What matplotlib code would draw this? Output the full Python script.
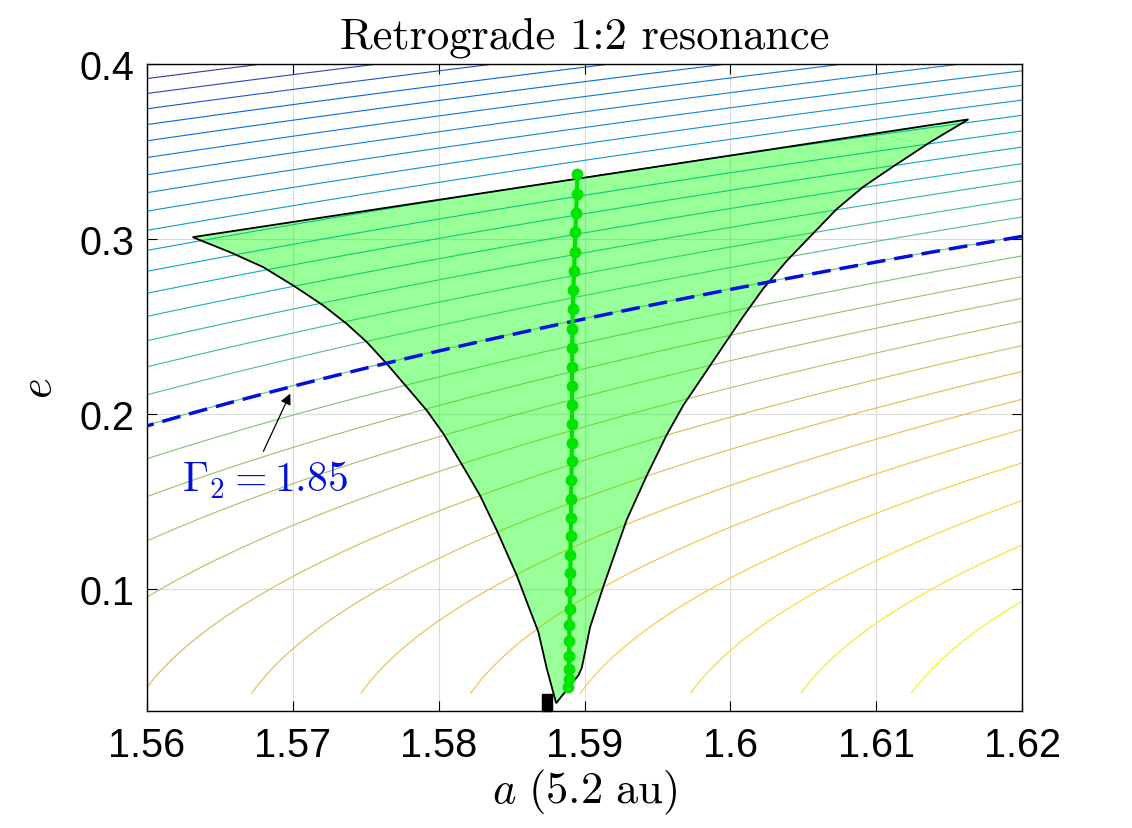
import numpy as np
import matplotlib
matplotlib.use("Agg")
from matplotlib import pyplot as plt
from matplotlib.colors import LinearSegmentedColormap, Normalize
from matplotlib.patches import Polygon, Rectangle


# axis ranges of the (a, e) map
a_range = (1.56, 1.62)
e_range = (0.04, 0.40)
n_levels = 30
gamma_dashed = 1.85

# boundary of the resonance region: top-left corner, top-right corner,
# down the right edge to the tip, then up the left edge
right_a = [1.61632, 1.61369, 1.61118, 1.60912, 1.60730, 1.60546, 1.60387,
           1.60226, 1.60089, 1.59952, 1.59815, 1.59678, 1.59564, 1.59427,
           1.59289, 1.59129, 1.59038, 1.58981, 1.58958]
right_e = [0.36834, 0.35526, 0.34149, 0.32983, 0.31714, 0.30126, 0.28749,
           0.27166, 0.25577, 0.23886, 0.22189, 0.20497, 0.18806, 0.16474,
           0.13937, 0.10126, 0.07800, 0.05469, 0.05046]
tip = (1.58805, 0.0345)
left_a = [1.58741, 1.58683, 1.58604, 1.58535, 1.58398, 1.58283, 1.58169,
          1.58032, 1.57918, 1.57781, 1.57644, 1.57507, 1.57369, 1.57209,
          1.57003, 1.56797, 1.56569, 1.56313]
left_e = [0.05429, 0.07526, 0.09240, 0.10760, 0.13331, 0.15331, 0.16954,
          0.18857, 0.20189, 0.21526, 0.22857, 0.24097, 0.25143, 0.26189,
          0.27331, 0.28383, 0.29240, 0.30097]

# centre of the resonance (green dots)
centre_a = [1.58951, 1.58947, 1.58942, 1.58937, 1.58933, 1.58928, 1.58923,
            1.58919, 1.58916, 1.58916, 1.58914, 1.58914, 1.58914, 1.58914,
            1.58912, 1.58912, 1.58910, 1.58907, 1.58907, 1.58905, 1.58903,
            1.58903, 1.58899, 1.58899, 1.58896, 1.58894, 1.58894, 1.58892,
            1.58892, 1.58889]
centre_e = [0.3370, 0.3259, 0.3150, 0.3042, 0.2927, 0.2817, 0.2709, 0.2600,
            0.2482, 0.2375, 0.2267, 0.2158, 0.2050, 0.1941, 0.1834, 0.1727,
            0.1619, 0.1514, 0.1404, 0.1301, 0.1194, 0.1091, 0.0985, 0.0886,
            0.0790, 0.0703, 0.0613, 0.0539, 0.0482, 0.0440]

# black marker at the bottom (a_min, a_max, e_min, e_max)
marker_box = (1.5871, 1.5878, 0.030, 0.0396)

# label arrow
arrow_head = (1.5699, 0.2130)
arrow_tail = (1.5679, 0.1771)
label_pos = (1.5624, 0.1629)

# MATLAB parula, sampled
parula_anchors = [
  (0 / 63, (0.2081, 0.1663, 0.5292)), (4 / 63, (0.1959, 0.2645, 0.7279)),
  (8 / 63, (0.0117, 0.3875, 0.8820)), (12 / 63, (0.0498, 0.4586, 0.8641)),
  (16 / 63, (0.0793, 0.5200, 0.8312)), (20 / 63, (0.0343, 0.5966, 0.8199)),
  (24 / 63, (0.0228, 0.6535, 0.7768)), (28 / 63, (0.0843, 0.6928, 0.7062)),
  (32 / 63, (0.2178, 0.7250, 0.6193)), (36 / 63, (0.3953, 0.7459, 0.5244)),
  (40 / 63, (0.5709, 0.7485, 0.4494)), (44 / 63, (0.7184, 0.7411, 0.3905)),
  (48 / 63, (0.8507, 0.7299, 0.3360)), (52 / 63, (0.9739, 0.7314, 0.2666)),
  (56 / 63, (0.9880, 0.8066, 0.1794)), (60 / 63, (0.9599, 0.9218, 0.0948)),
  (63 / 63, (0.9763, 0.9831, 0.0538)),
]


def gamma2(a, e):
  # retrograde 1:2 resonance invariant
  return np.sqrt(a) * (np.sqrt(1 - e**2) + 0.5)


def plot_resonance(fname):
  fig = plt.figure(figsize=(11.32, 8.29), dpi=100)
  ax = fig.add_axes([0.1299, 0.1411, 0.7730, 0.7805])

  A, E = np.meshgrid(np.linspace(*a_range, 300), np.linspace(*e_range, 300))
  G = gamma2(A, E)
  levels = np.linspace(G.min(), G.max(), n_levels + 2)[1:-1]
  parula = LinearSegmentedColormap.from_list("parula", parula_anchors)
  ax.contour(A, E, G, levels=levels, cmap=parula,
             norm=Normalize(G.min(), G.max()), linewidths=0.8, zorder=1)

  poly_a = right_a + [tip[0]] + left_a
  poly_e = right_e + [tip[1]] + left_e
  ax.add_patch(Polygon(np.column_stack([poly_a, poly_e]), closed=True,
                       facecolor=(0, 1, 0, 0.4), edgecolor='k', lw=1.3,
                       joinstyle='miter', zorder=2))

  cs = ax.contour(A, E, G, levels=[gamma_dashed], colors=['#0010dd'],
                  linewidths=2.5, zorder=3)
  cs.set_dashes([(0, (5.4, 2.6))])

  ax.plot(centre_a, centre_e, '-o', color='#00e400', lw=3, ms=7.5, zorder=4)

  x0, x1, y0, y1 = marker_box
  ax.add_patch(Rectangle((x0, y0), x1 - x0, y1 - y0, color='k', zorder=5,
                         clip_on=False))

  ax.annotate('', xy=arrow_head, xytext=arrow_tail,
              arrowprops=dict(arrowstyle='-|>', color='k', lw=0.9,
                              mutation_scale=16))
  ax.text(*label_pos, r'$\Gamma_2 = 1.85$', color='#0010dd', fontsize=30,
          ha='left', va='center')

  ax.set_xlim(*a_range)
  ax.set_ylim(0.03, 0.4)
  ax.set_xticks([1.56, 1.57, 1.58, 1.59, 1.6, 1.61, 1.62])
  ax.set_xticklabels(['1.56', '1.57', '1.58', '1.59', '1.6', '1.61', '1.62'])
  ax.set_yticks([0.1, 0.2, 0.3, 0.4])
  ax.set_yticklabels(['0.1', '0.2', '0.3', '0.4'])
  ax.tick_params(direction='in', length=7, width=0.8, top=True, right=True,
                 labelsize=28.5)
  ax.tick_params(axis='x', pad=11)
  ax.tick_params(axis='y', pad=9)
  for lab in ax.get_xticklabels() + ax.get_yticklabels():
    lab.set_fontfamily('Liberation Sans')
  ax.grid(True, color='#dcdcdc', lw=0.8)
  ax.set_axisbelow(True)
  for s in ax.spines.values():
    s.set_linewidth(1.0)

  ax.set_title('Retrograde 1:2 resonance', fontfamily='cmr10', fontsize=32,
               pad=12)
  ax.set_xlabel(r'$a\ (5.2\ \mathrm{au})$', fontsize=32, labelpad=2)
  ax.set_ylabel(r'$e$', fontsize=32, labelpad=14)

  fig.savefig(fname, dpi=100)


def main():
  matplotlib.rc('mathtext', fontset='cm')
  plot_resonance('out.png')


if __name__ == '__main__':
  main()
